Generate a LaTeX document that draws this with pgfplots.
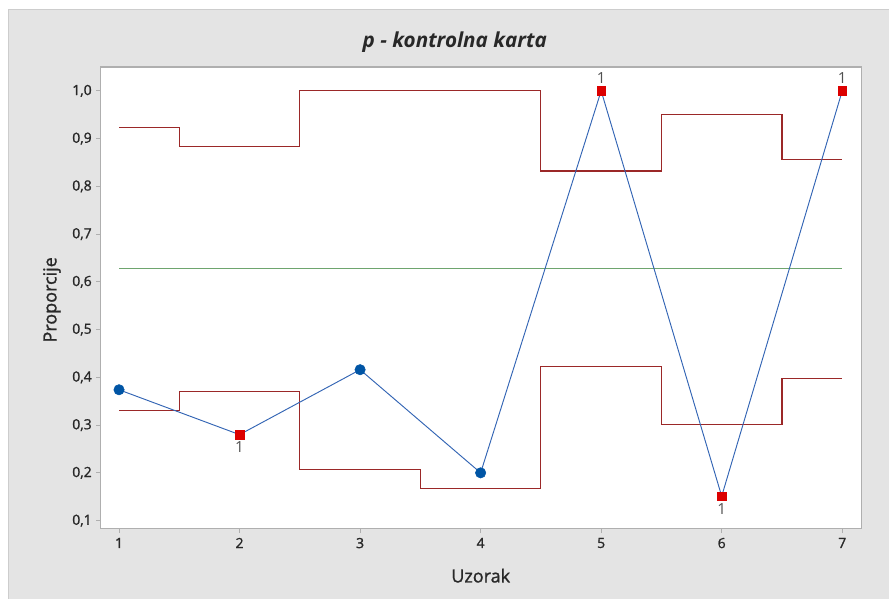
\documentclass[border=0pt]{standalone}
\usepackage{pgfplots}
\pgfplotsset{compat=1.18}
\usepackage{fontspec}
\setmainfont{Open Sans}
\newfontfamily\sbfont[FakeBold=1.3]{Open Sans}
\definecolor{bg}{RGB}{228,228,228}
\definecolor{bordergray}{RGB}{175,175,175}
\definecolor{labelgray}{RGB}{40,40,40}
\definecolor{limred}{RGB}{155,40,40}
\definecolor{cgreen}{RGB}{110,165,110}
\definecolor{lineblue}{RGB}{50,100,180}
\definecolor{markblue}{RGB}{0,85,165}
\definecolor{markred}{RGB}{220,0,0}
\begin{document}
\begin{tikzpicture}[x=0.75pt,y=0.75pt]
\fill[white] (0,0) rectangle (889,599);
\fill[bg] (9,0) rectangle (889,589);
\draw[color={rgb,255:red,205;green,205;blue,205}, line width=0.75pt] (9,0) -- (9,589) -- (889,589);
\node[font=\fontsize{15.5}{18}\selectfont\bfseries\itshape, text=labelgray] at (455,557) {p - kontrolna karta};
\node[font=\fontsize{13.5}{15}\sbfont, text=labelgray, rotate=90] at (52,299) {Proporcije};
\node[font=\fontsize{13.5}{15}\sbfont, text=labelgray] at (481,23) {Uzorak};
\begin{axis}[
  at={(75.75pt,52.5pt)}, anchor=south west,
  width=570.75pt, height=346.5pt, scale only axis,
  xmin=0.85, xmax=7.16, ymin=0.083, ymax=1.05,
  xtick={1,2,3,4,5,6,7},
  ytick={0.1,0.2,0.3,0.4,0.5,0.6,0.7,0.8,0.9,1.0},
  axis background/.style={fill=white},
  axis line style={draw=bordergray, line width=0.8pt},
  tick style={draw=bordergray, line width=0.6pt},
  tick align=outside, tick pos=left, major tick length=3.4pt,
  tick label style={font=\fontsize{10.5}{12}\sbfont, text=labelgray},
  /pgf/number format/assume math mode=true,
  yticklabel style={/pgf/number format/.cd, use comma, fixed, fixed zerofill, precision=1},
  xticklabel style={/pgf/number format/.cd, fixed, precision=0},
  clip=false,
]
% center line
\addplot[cgreen, line width=0.8pt, mark=none] coordinates {(1,0.627)(7,0.627)};
% UCL
\addplot[limred, line width=0.9pt, mark=none, const plot mark mid] coordinates {
(1,0.923)(2,0.883)(3,1.0)(4,1.0)(5,0.832)(6,0.950)(7,0.857)};
% LCL
\addplot[limred, line width=0.9pt, mark=none, const plot mark mid] coordinates {
(1,0.331)(2,0.370)(3,0.207)(4,0.168)(5,0.422)(6,0.302)(7,0.397)};
% data line
\addplot[lineblue, line width=0.7pt, mark=none] coordinates {
(1,0.374)(2,0.280)(3,0.416)(4,0.200)(5,1.0)(6,0.151)(7,1.0)};
% in-control points
\addplot[only marks, mark=*, mark size=3.9pt, mark options={fill=markblue, draw=markblue}] coordinates {
(1,0.374)(3,0.416)(4,0.200)};
% out-of-control points, label below
\addplot[only marks, mark=square*, mark size=3.2pt, mark options={fill=markred, draw=markred},
  nodes near coords={1}, nodes near coords align={below},
  every node near coord/.append style={font=\fontsize{11.5}{12}\selectfont, text={rgb,255:red,80;green,80;blue,80}, inner sep=0pt, yshift=-5pt}] coordinates {
(2,0.280)(6,0.151)};
% out-of-control points, label above
\addplot[only marks, mark=square*, mark size=3.2pt, mark options={fill=markred, draw=markred},
  nodes near coords={1}, nodes near coords align={above},
  every node near coord/.append style={font=\fontsize{11.5}{12}\selectfont, text={rgb,255:red,80;green,80;blue,80}, inner sep=0pt, yshift=5pt}] coordinates {
(5,1.0)(7,1.0)};
\end{axis}
\end{tikzpicture}
\end{document}
